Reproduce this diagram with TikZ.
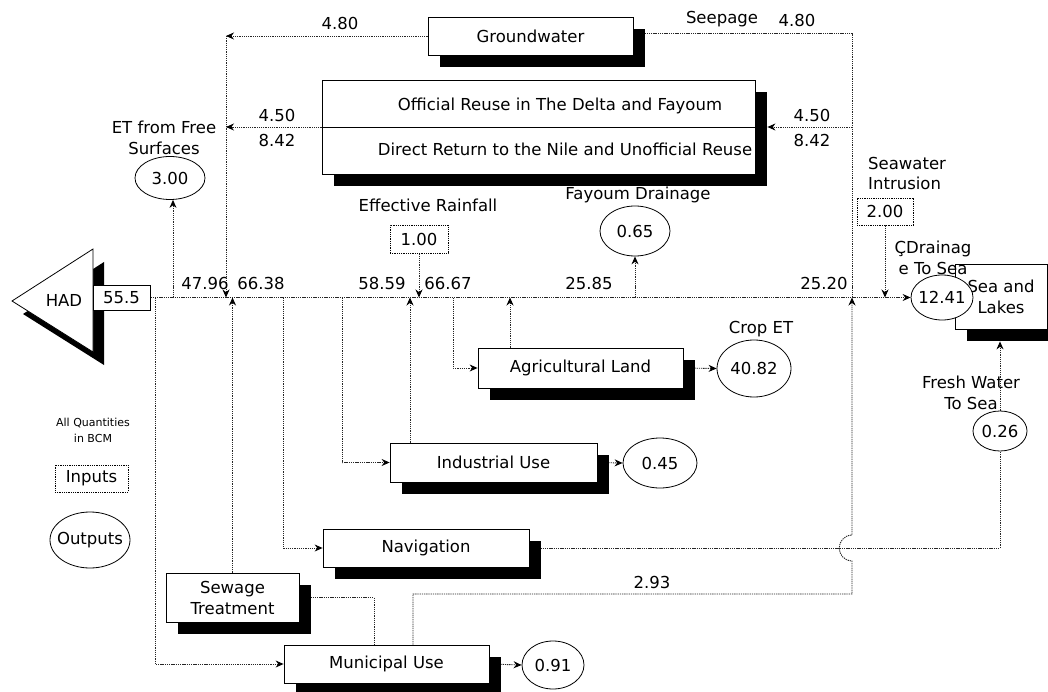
\documentclass[tikz,border=0pt]{standalone}
\usepackage{fontspec}
\setmainfont{DejaVu Sans}
\usetikzlibrary{arrows.meta,shapes.geometric,shadows,calc}
\pgfdeclarelayer{bgfill}
\pgfdeclarelayer{background}
\pgfsetlayers{bgfill,background,main}
\begin{document}
\begin{tikzpicture}[x=1pt,y=-1pt,
  font=\fontsize{16.5}{19}\selectfont,
  flow/.style={black!85,line width=0.9pt,dash pattern=on 1.3pt off 0.9pt},
  tip/.style={-{Stealth[length=8pt,width=7pt,black]}},
  proc/.style={draw,line width=0.8pt,fill=white,inner sep=0pt,
     drop shadow={shadow xshift=12pt,shadow yshift=-12pt,fill=black,opacity=1}},
  outp/.style={draw,ellipse,line width=0.8pt,fill=white,inner xsep=-25pt,inner ysep=-8pt},
  inp/.style={draw,line width=0.8pt,dash pattern=on 1pt off 0.8pt,inner sep=0pt,fill=white},
  lbl/.style={inner sep=0pt},
  two/.style={align=center,font=\fontsize{16.5}{21}\selectfont},
]
\useasboundingbox (0,0) rectangle (1048,692);
\begin{pgfonlayer}{bgfill}
  \fill[white] (0,0) rectangle (1048,692);
\end{pgfonlayer}

% HAD
\fill[black] (23,314) -- (104,262) -- (104,365) -- cycle;
\draw[fill=white,line width=0.8pt] (12,301) -- (93,249) -- (93,352) -- cycle;
\node[lbl] (had) at (64,300) {HAD};
\node[draw,fill=white,line width=0.8pt,minimum width=57pt,minimum height=25pt,inner sep=0pt] (src) at (121.5,297.5) {55.5};

% process boxes
\node[proc,minimum width=205pt,minimum height=38pt] (ground) at (530.5,36) {Groundwater};
\node[proc,minimum width=433pt,minimum height=94pt] (reuse) at (538.5,127) {};
\draw[line width=0.8pt] (reuse.west) -- (reuse.east);
\node[lbl] (reuseA) at (560,106) {Official Reuse in The Delta and Fayoum};
\node[lbl] (reuseB) at (565,149) {Direct Return to the Nile and Unofficial Reuse};
\node[proc,minimum width=205pt,minimum height=40pt] (agr) at (580.5,368) {Agricultural Land};
\node[proc,minimum width=207pt,minimum height=39pt] (ind) at (493.5,462.5) {Industrial Use};
\node[proc,minimum width=206pt,minimum height=38pt] (nav) at (426,548) {Navigation};
\node[proc,minimum width=133pt,minimum height=49pt,two] (sew) at (232.5,597.5) {Sewage\\Treatment};
\node[proc,minimum width=205pt,minimum height=38pt] (mun) at (386.5,664) {Municipal Use};
\node[proc,minimum width=92pt,minimum height=65pt,two] (sea) at (1001,296.5) {Sea and\\Lakes};

% inputs
\node[inp,minimum width=58pt,minimum height=28pt] (rain) at (419,239) {1.00};
\node[inp,minimum width=56pt,minimum height=27pt] (sw) at (885,211.5) {2.00};

% outputs
\node[outp,minimum width=70pt,minimum height=43pt] (et) at (170,178) {3.00};
\node[outp,minimum width=70pt,minimum height=50pt] (fay) at (635,231) {0.65};
\node[outp,minimum width=74pt,minimum height=57pt] (crop) at (754,368.5) {40.82};
\node[outp,minimum width=74pt,minimum height=50pt] (indo) at (660,463) {0.45};
\node[outp,minimum width=62pt,minimum height=48pt] (muno) at (553,665) {0.91};
\node[outp,minimum width=62pt,minimum height=45pt] (seao) at (942,297.5) {12.41};
\node[outp,minimum width=54pt,minimum height=40pt] (fw) at (1000,431) {0.26};

% legend
\node[lbl,align=center,font=\fontsize{11}{16}\selectfont] (allq) at (93,430) {All Quantities\\in BCM};
\node[inp,minimum width=73pt,minimum height=27pt] (inl) at (91.5,478.5) {Inputs};
\node[outp,minimum width=80pt,minimum height=56pt] (outl) at (90,540) {Outputs};

% junctions on the main line
\coordinate (jmun) at (155,297.5);
\coordinate (jet) at (173,297.5);
\coordinate (jgw) at (226,297.5);
\coordinate (jsew) at (232.5,297.5);
\coordinate (jnav) at (283,297.5);
\coordinate (jind) at (342,297.5);
\coordinate (jindr) at (410,297.5);
\coordinate (jrain) at (419,297.5);
\coordinate (jagr) at (453,297.5);
\coordinate (jagrr) at (510,297.5);
\coordinate (jfay) at (635,297.5);
\coordinate (s3) at (852,297.5);
\coordinate (s1) at (852,33);
\coordinate (s4) at (852,594);
\coordinate (m1) at ($(mun.north)+(-12.5,0)$);
\coordinate (m2) at ($(mun.north)+(26.5,0)$);

\begin{pgfonlayer}{background}
  \draw[flow,tip] (src.east) -- (seao.west);
  \draw[flow,tip] (jmun) |- (mun.west);
  \draw[flow,tip] (jet) -- (jet |- et.south);
  \draw[flow,tip] (ground.west) -- (jgw |- ground.west);
  \draw[flow,tip] (jgw |- ground.west) -- (jgw);
  \draw[flow,tip] (reuse.west) -- (jgw |- reuse.west);
  \draw[flow,tip] (sew.north) -- (jsew);
  \draw[flow,tip] (jnav) |- (nav.west);
  \draw[flow,tip] (jind) |- (ind.west);
  \draw[flow,tip] (jindr |- ind.north) -- (jindr);
  \draw[flow,tip] (rain.south) -- (jrain);
  \draw[flow,tip] (jagr) |- (agr.west);
  \draw[flow,tip] (jagrr |- agr.north) -- (jagrr);
  \draw[flow,tip] (jfay) -- (fay.south);
  \draw[flow,tip] (agr.east) -- (crop.west);
  \draw[flow,tip] (ind.east) -- (indo.west);
  \draw[flow,tip] (mun.east) -- (muno.west);
  \draw[flow,tip] (sw.south) -- (sw.south |- src.east);
  \draw[flow] (s3) -- (s1) -- (s1 -| ground.east);
  \draw[flow,tip] (s3 |- reuse.west) -- ($(reuse.east)+(12,0)$);
  \draw[flow,tip] (m2) |- (s4) -- (852,561) .. controls (835,560) and (835,536) .. (852,535) -- (s3);
  \draw[flow] (sew.east) -| (m1);
  \draw[flow] (nav.east) -- (fw.south |- nav.east) -- (fw.south);
  \draw[flow,tip] (fw.north) -- ($(fw.north |- sea.south)+(0,12)$);
\end{pgfonlayer}

% labels
\node[lbl] (l4796) at (205,283) {47.96};
\node[lbl] (l6638) at (261,283) {66.38};
\node[lbl] (l5859) at (382,283) {58.59};
\node[lbl] (l6667) at (448,283) {66.67};
\node[lbl] (l2585) at (589,283) {25.85};
\node[lbl] (l2520) at (824,283) {25.20};
\node[lbl] (l480a) at (340,23) {4.80};
\node[lbl] (l450a) at (277,115) {4.50};
\node[lbl] (l842a) at (277,140) {8.42};
\node[lbl] (lseep) at (722,19) {Seepage};
\node[lbl] (l480b) at (797,20) {4.80};
\node[lbl] (l450b) at (812,115) {4.50};
\node[lbl] (l842b) at (812,140) {8.42};
\node[lbl] (l293) at (652,582) {2.93};
\node[lbl,two] (letl) at (164,138) {ET from Free\\Surfaces};
\node[lbl] (lrain) at (428,205) {Effective Rainfall};
\node[lbl] (lfay) at (638,195) {Fayoum Drainage};
\node[lbl] (lcrop) at (761,329) {Crop ET};
\node[lbl,align=left,anchor=west,font=\fontsize{16.5}{20}\selectfont] (lsw) at (868,173) {Seawater\\Intrusion};
\node[lbl,two] (ldr) at (933,258) {ÇDrainag\\e To Sea};
\node[lbl,two] (lfw) at (971,393) {Fresh Water\\To Sea};
\end{tikzpicture}
\end{document}
